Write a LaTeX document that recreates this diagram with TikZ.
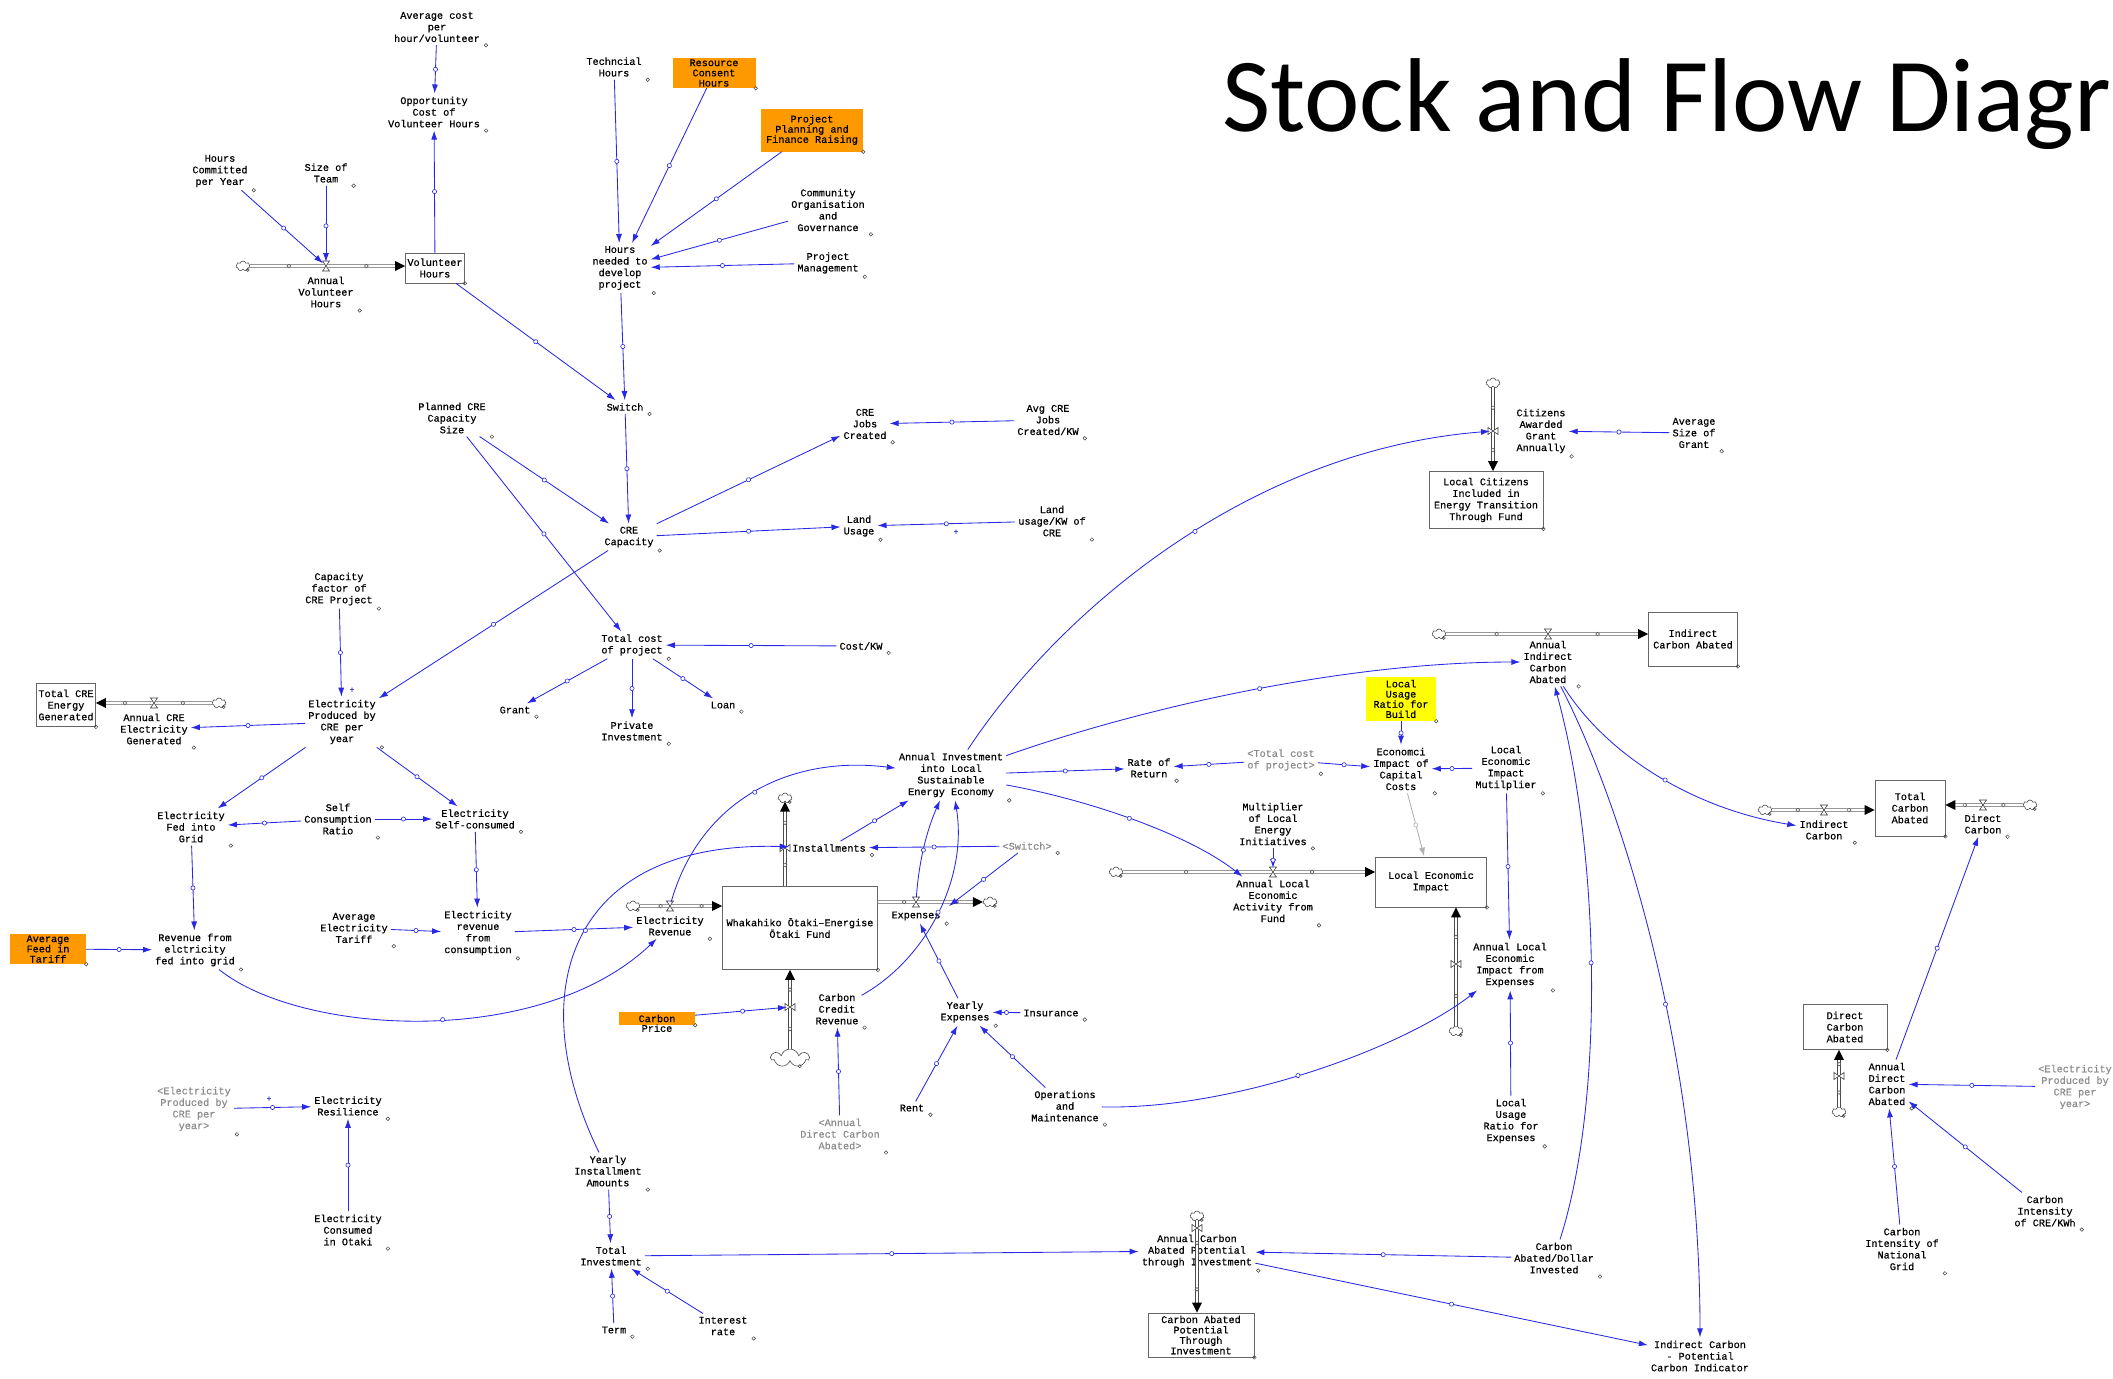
\documentclass[tikz,border=0pt]{standalone}
\usepackage{fontspec}
\usetikzlibrary{arrows.meta,positioning,calc,shapes.symbols,decorations.markings}
\newfontfamily\vfont[FakeBold=0.6]{Liberation Mono}
\newfontfamily\titlefont{Carlito}
\definecolor{vblue}{RGB}{40,40,230}
\definecolor{vorange}{RGB}{255,153,0}
\definecolor{vyellow}{RGB}{255,255,0}

\begin{document}
\begin{tikzpicture}[
  x=1pt, y=-1pt,
  var/.style={font=\vfont\fontsize{10.2}{11.6}\selectfont, align=center, inner sep=3pt},
  ghost/.style={var, text=black!45},
  hilite/.style={var, inner sep=0pt, font=\vfont\fontsize{10.2}{10.2}\selectfont},
  stockbox/.style={var, draw=black!60, line width=0.8pt},
  cloudy/.style={cloud, cloud puffs=7, aspect=1.4, draw=black!70, fill=white, line width=0.6pt,
    minimum width=14pt, minimum height=10pt, inner sep=0pt},
  plus/.style={text=vblue, font=\vfont\fontsize{8}{8}\selectfont, inner sep=0pt},
  dot/.style={draw=black!75, line width=0.5pt},
  link/.style={draw=vblue, line width=0.85pt, -{Latex[length=9pt,width=6pt]},
    postaction={decorate, decoration={markings,
      mark=at position 0.5 with {\draw[vblue, fill=white, line width=0.6pt] (0,0) circle (2.1pt);}}}},
  glink/.style={draw=black!30, line width=0.85pt, -{Latex[length=9pt,width=6pt]},
    postaction={decorate, decoration={markings,
      mark=at position 0.5 with {\draw[black!30, fill=white, line width=0.6pt] (0,0) circle (2.1pt);}}}},
  pipe/.style={draw=black!70, line width=0.6pt, double=white, double distance=2.2pt, shorten >=3.5pt,
    postaction={decorate, decoration={markings,
      mark=at position 0.25 with {\draw[black!70, fill=white, line width=0.5pt] (0,0) circle (1.9pt);},
      mark=at position 0.75 with {\draw[black!70, fill=white, line width=0.5pt] (0,0) circle (1.9pt);},
      mark=at position 1 with {\fill[black] (0pt,0pt) -- (-10pt,5pt) -- (-10pt,-5pt) -- cycle;}}}},
  pics/hvalve/.style={code={\draw[black!75, fill=white, line width=0.6pt] (-3.5,-5) -- (3.5,-5) -- (-3.5,5) -- (3.5,5) -- cycle;}},
  pics/vvalve/.style={code={\draw[black!75, fill=white, line width=0.6pt] (-5,-3.5) -- (-5,3.5) -- (5,-3.5) -- (5,3.5) -- cycle;}}
]

\useasboundingbox[fill=white] (0,0) rectangle (2113,1379);

\node[font=\titlefont\fontsize{105}{110}\selectfont, anchor=base west, inner sep=0pt] (title) at (1222,131) {Stock and Flow Diagram};

% volunteer hours
\node[var] (avgcost) at (437,27) {Average cost\\per\\hour/volunteer};
\node[var] (oppcost) at (434,112) {Opportunity\\Cost of\\Volunteer Hours};
\node[var] (hrscom) at (220,171) {Hours\\Committed\\per Year};
\node[var] (teamsize) at (326,173) {Size of\\Team};
\node[stockbox, minimum width=59pt, minimum height=30pt, inner sep=1pt] (volh) at (435,268) {Volunteer\\Hours};
\node[var] (annvolh) at (326,292) {Annual\\Volunteer\\Hours};
\node[cloudy] (cVol) at (243,266) {};
\coordinate (vVol) at (326,266);

% hours needed
\node[var] (techh) at (614,67) {Techncial\\Hours};
\node[hilite, fill=vorange, minimum width=83pt, minimum height=30pt] (rcons) at (714,73) {Resource\\Consent\\Hours};
\node[hilite, fill=vorange, minimum width=102pt, minimum height=43pt] (ppfr) at (812,130) {Project\\Planning and\\Finance Raising};
\node[var] (commorg) at (828,210) {Community\\Organisation\\and\\Governance};
\node[var] (projman) at (828,263) {Project\\Management};
\node[var] (hrsneed) at (620,268) {Hours\\needed to\\develop\\project};
\node[var] (switch) at (625,407) {Switch};

% CRE capacity
\node[var] (plancre) at (452,418) {Planned CRE\\Capacity\\Size};
\node[var] (crecap) at (629,537) {CRE\\Capacity};
\node[var] (crejobs) at (865,424) {CRE\\Jobs\\Created};
\node[var] (avgjobs) at (1048,420) {Avg CRE\\Jobs\\Created/KW};
\node[var] (landuse) at (859,526) {Land\\Usage};
\node[var] (landkw) at (1052,521) {Land\\usage/KW of\\CRE};
\node[plus] (plusland) at (956,532) {+};
\node[var] (totcost) at (632,645) {Total cost\\of project};
\node[var] (costkw) at (861,646) {Cost/KW};
\node[var] (grant) at (515,710) {Grant};
\node[var] (privinv) at (632,731) {Private\\Investment};
\node[var] (loan) at (723,705) {Loan};

% electricity
\node[var] (capfac) at (339,589) {Capacity\\factor of\\CRE Project};
\node[plus] (pluscap) at (352,690) {+};
\node[var] (elecprod) at (342,722) {Electricity\\Produced by\\CRE per\\year};
\node[stockbox, minimum width=59pt, minimum height=43pt, inner sep=1pt] (totcre) at (66,705) {Total CRE\\Energy\\Generated};
\node[var] (anncre) at (154,729) {Annual CRE\\Electricity\\Generated};
\node[cloudy] (cCre) at (219,703) {};
\coordinate (vCre) at (154,703);
\node[var] (elecfed) at (191,827) {Electricity\\Fed into\\Grid};
\node[var] (selfcons) at (338,819) {Self\\Consumption\\Ratio};
\node[var] (elecself) at (475,819) {Electricity\\Self-consumed};
\node[var] (revcons) at (478,933) {Electricity\\revenue\\from\\consumption};
\node[var] (avgtariff) at (354,928) {Average\\Electricity\\Tariff};
\node[var] (revgrid) at (195,950) {Revenue from\\elctricity\\fed into grid};
\node[hilite, fill=vorange, minimum width=76pt, minimum height=30pt] (feedin) at (48,949) {Average\\Feed in\\Tariff};

% fund
\node[stockbox, minimum width=155pt, minimum height=83pt] (fund) at (800,928) {Whakahiko Ōtaki–Energise\\Ōtaki Fund};
\node[var] (elecrev) at (670,926) {Electricity\\Revenue};
\node[cloudy] (cErev) at (633,906) {};
\coordinate (vErev) at (670,906);
\node[var] (instal) at (829,848) {Installments};
\node[cloudy] (cInst) at (785,798) {};
\coordinate (vInst) at (785,848);
\node[var] (expenses) at (916,916) {Expenses};
\node[cloudy] (cExp) at (990,902) {};
\coordinate (vExp) at (916,902);
\coordinate (swExp) at (949,906);
\node[var] (carbcr) at (837,1009) {Carbon\\Credit\\Revenue};
\node[cloudy, minimum width=38pt, minimum height=18pt] (cCcr) at (790,1058) {};
\coordinate (vCcr) at (790,1007);
\node[hilite, fill=vorange, minimum width=76pt, minimum height=13pt,
  label={[var, inner sep=0pt, yshift=1pt]below:Price}] (carbprice) at (657,1018.5) {Carbon};
\node[ghost] (annco2dir) at (840,1134) {<Annual\\Direct Carbon\\Abated>};
\node[var] (yrexp) at (965,1012) {Yearly\\Expenses};
\node[var] (insur) at (1051,1013) {Insurance};
\node[var] (rent) at (912,1108) {Rent};
\node[var] (opsm) at (1065,1106) {Operations\\and\\Maintenance};
\node[var] (anninv) at (951,775) {Annual Investment\\into Local\\Sustainable\\Energy Economy};
\node[ghost] (switchg) at (1027,846) {<Switch>};

% local economy
\node[var] (rateret) at (1149,768) {Rate of\\Return};
\node[ghost] (totcostg) at (1281,760) {<Total cost\\of project>};
\node[hilite, fill=vyellow, minimum width=70pt, minimum height=44pt] (lurbuild) at (1401,699) {Local\\Usage\\Ratio for\\Build};
\node[var] (econcap) at (1401,769) {Economci\\Impact of\\Capital\\Costs};
\node[var] (lemult) at (1506,768) {Local\\Economic\\Impact\\Mutilplier};
\node[var] (multle) at (1273,824) {Multiplier\\of Local\\Energy\\Initiatives};
\node[var] (annlea) at (1273,901) {Annual Local\\Economic\\Activity from\\Fund};
\node[cloudy] (cLea) at (1116,872) {};
\coordinate (vLea) at (1273,872);
\node[stockbox, minimum width=111pt, minimum height=50pt] (leimpact) at (1431,882) {Local Economic\\Impact};
\node[var] (anlexp) at (1510,965) {Annual Local\\Economic\\Impact from\\Expenses};
\node[cloudy] (cLex) at (1456,1031) {};
\coordinate (vLex) at (1456,964);
\node[var] (lurexp) at (1511,1121) {Local\\Usage\\Ratio for\\Expenses};

% citizens
\node[var] (citiz) at (1541,431) {Citizens\\Awarded\\Grant\\Annually};
\node[cloudy] (cCit) at (1493,383) {};
\coordinate (vCit) at (1493,431);
\node[var] (avggrant) at (1694,433) {Average\\Size of\\Grant};
\node[stockbox, minimum width=114pt, minimum height=57pt, inner sep=1pt] (locciti) at (1486,500) {Local Citizens\\Included in\\Energy Transition\\Through Fund};

% carbon
\node[var] (annind) at (1548,662) {Annual\\Indirect\\Carbon\\Abated};
\node[cloudy] (cInd) at (1439,634) {};
\coordinate (vInd) at (1548,634);
\node[stockbox, minimum width=89pt, minimum height=54pt, inner sep=1pt] (indca) at (1693,639) {Indirect\\Carbon Abated};
\node[stockbox, minimum width=70pt, minimum height=56pt, inner sep=1pt] (totca) at (1910,808) {Total\\Carbon\\Abated};
\node[var] (indc) at (1824,830) {Indirect\\Carbon};
\node[cloudy] (cIc) at (1765,810) {};
\coordinate (vIc) at (1824,810);
\node[var] (dirc) at (1983,824) {Direct\\Carbon};
\node[cloudy] (cDc) at (2030,805) {};
\coordinate (vDc) at (1983,805);
\node[stockbox, minimum width=84pt, minimum height=45pt, inner sep=1pt] (dirca) at (1845,1027) {Direct\\Carbon\\Abated};
\node[var] (anndir) at (1887,1084) {Annual\\Direct\\Carbon\\Abated};
\node[cloudy] (cAd) at (1839,1112) {};
\coordinate (vAd) at (1839,1076);
\node[ghost] (elecprodg) at (2075,1087) {<Electricity\\Produced by\\CRE per\\year>};
\node[var] (cicre) at (2045,1211) {Carbon\\Intensity\\of CRE/KWh};
\node[var] (cigrid) at (1902,1249) {Carbon\\Intensity of\\National\\Grid};

% bottom row
\node[ghost] (elecprodg2) at (194,1109) {<Electricity\\Produced by\\CRE per\\year>};
\node[plus] (plusres) at (269,1099) {+};
\node[var] (elecres) at (348,1106) {Electricity\\Resilience};
\node[var] (eleccons) at (348,1230) {Electricity\\Consumed\\in Otaki};
\node[var] (yrinst) at (608,1171) {Yearly\\Installment\\Amounts};
\node[var] (totinv) at (611,1256) {Total\\Investment};
\node[var] (term) at (614,1330) {Term};
\node[var] (intrate) at (723,1326) {Interest\\rate};
\node[var] (acap) at (1197,1251) {Annual Carbon\\Abated Potential\\through Investment};
\node[cloudy] (cAcap) at (1197,1216) {};
\coordinate (vAcap) at (1197,1228);
\node[stockbox, minimum width=106pt, minimum height=44pt, inner sep=1pt, font=\vfont\fontsize{10.2}{10.4}\selectfont] (cap) at (1201,1335) {Carbon Abated\\Potential\\Through\\Investment};
\node[var] (cadollar) at (1554,1258) {Carbon\\Abated/Dollar\\Invested};
\node[var] (indpot) at (1700,1356) {Indirect Carbon\\- Potential\\Carbon Indicator};

% flows
\draw[pipe] (cVol) -- (vVol) -- (volh.west |- vVol);
\draw[pipe] (cCre) -- (vCre) -- (totcre.east |- vCre);
\draw[pipe] (cErev) -- (vErev) -- (fund.west |- vErev);
\draw[pipe] (fund.north -| vInst) -- (vInst) -- (cInst);
\draw[pipe] (fund.east |- vExp) -- (vExp) -- (cExp);
\draw[pipe] (cCcr) -- (vCcr) -- (fund.south -| vCcr);
\draw[pipe] (cCit) -- (vCit) -- (locciti.north -| vCit);
\draw[pipe] (cLea) -- (vLea) -- (leimpact.west |- vLea);
\draw[pipe] (cLex) -- (vLex) -- (leimpact.south -| vLex);
\draw[pipe] (cInd) -- (vInd) -- (indca.west |- vInd);
\draw[pipe] (cIc) -- (vIc) -- (totca.west |- vIc);
\draw[pipe] (cDc) -- (vDc) -- (totca.east |- vDc);
\draw[pipe] (cAd) -- (vAd) -- (dirca.south -| vAd);
\draw[pipe] (cAcap) -- (vAcap) -- (cap.north -| vAcap);

\foreach \v in {vVol,vCre,vErev,vExp,vLea,vInd,vIc,vDc}
  \pic at (\v) {hvalve};
\foreach \v in {vInst,vCcr,vCit,vLex,vAd,vAcap}
  \pic at (\v) {vvalve};

% links
\draw[link] (avgcost) -- (oppcost);
\draw[link] (volh) -- (oppcost);
\draw[link, shorten >=4pt] (hrscom) -- (vVol);
\draw[link, shorten >=4pt] (teamsize) -- (vVol);
\draw[link] (volh) -- (switch);
\draw[link] (techh) -- (hrsneed);
\draw[link] (rcons) -- (hrsneed);
\draw[link] (ppfr) -- (hrsneed);
\draw[link] (commorg) -- (hrsneed);
\draw[link] (projman) -- (hrsneed);
\draw[link] (hrsneed) -- (switch);
\draw[link] (switch) -- (crecap);
\draw[link] (plancre) -- (crecap);
\draw[link] (plancre) -- (totcost);
\draw[link] (crecap) -- (crejobs);
\draw[link] (avgjobs) -- (crejobs);
\draw[link] (crecap) -- (landuse);
\draw[link] (landkw) -- (landuse);
\draw[link] (crecap) -- (elecprod);
\draw[link] (costkw) -- (totcost);
\draw[link] (totcost) -- (grant);
\draw[link] (totcost) -- (privinv);
\draw[link] (totcost) -- (loan);

\draw[link] (capfac) -- (elecprod);
\draw[link] (elecprod) -- (anncre);
\draw[link] (elecprod) -- (elecfed);
\draw[link] (elecprod) -- (elecself);
\draw[link] (selfcons) -- (elecfed);
\draw[link] (selfcons) -- (elecself);
\draw[link] (elecfed) -- (revgrid);
\draw[link] (elecself) -- (revcons);
\draw[link] (avgtariff) -- (revcons);
\draw[link] (feedin) -- (revgrid);
\draw[link] (revgrid) .. controls (300,1035) and (540,1050) .. (elecrev);
\draw[link] (revcons) -- (elecrev);

\draw[link, shorten <=4pt] (vErev) .. controls (700,800) and (790,755) .. (anninv);
\draw[link] (yrinst) .. controls (520,990) and (570,840) .. (instal);
\draw[link] (instal) -- (anninv);
\draw[link] (switchg) -- (instal);
\draw[link] (switchg) -- (swExp);
\draw[link, shorten <=5pt] (vExp) .. controls (919,860) and (927,830) .. (anninv);
\draw[link] (carbcr) .. controls (925,960) and (968,880) .. (anninv);
\draw[link, shorten >=3pt] (carbprice) -- (vCcr);
\draw[link] (annco2dir) -- (carbcr);
\draw[link] (yrexp) -- (expenses);
\draw[link] (insur) -- (yrexp);
\draw[link] (rent) -- (yrexp);
\draw[link] (opsm) -- (yrexp);
\draw[link] (opsm) .. controls (1230,1110) and (1400,1050) .. (anlexp);

\draw[link, shorten >=3pt] (anninv) .. controls (1060,610) and (1250,450) .. (vCit);
\draw[link] (anninv) .. controls (1150,705) and (1350,662) .. (annind);
\draw[link] (anninv) -- (rateret);
\draw[link] (anninv) .. controls (1090,800) and (1190,835) .. (annlea);
\draw[link] (totcostg) -- (rateret);
\draw[link] (totcostg) -- (econcap);
\draw[link] (lurbuild) -- (econcap);
\draw[link] (lemult) -- (econcap);
\draw[glink] (econcap) -- (leimpact);
\draw[link] (lemult) -- (anlexp);
\draw[link, shorten >=4pt] (multle) -- (vLea);
\draw[link] (lurexp) -- (anlexp);
\draw[link] (avggrant) -- (citiz);

\draw[link] (annind) .. controls (1610,760) and (1700,810) .. (indc);
\draw[link] (cadollar) .. controls (1605,1100) and (1600,850) .. (annind);
\draw[link] (annind) .. controls (1620,800) and (1700,1050) .. (indpot);
\draw[link] (anndir) -- (dirc);
\draw[link] (elecprodg) -- (anndir);
\draw[link] (cicre) -- (anndir);
\draw[link] (cigrid) -- (anndir);

\draw[link] (elecprodg2) -- (elecres);
\draw[link] (eleccons) -- (elecres);
\draw[link] (yrinst) -- (totinv);
\draw[link] (term) -- (totinv);
\draw[link] (intrate) -- (totinv);
\draw[link] (totinv) -- (acap);
\draw[link] (cadollar) -- (acap);
\draw[link] (acap) -- (indpot);

% variable markers
\foreach \n in {avgcost,oppcost,hrscom,teamsize,annvolh,techh,commorg,projman,hrsneed,switch,
  plancre,crecap,crejobs,avgjobs,landuse,landkw,totcost,costkw,grant,privinv,loan,capfac,elecprod,
  anncre,elecfed,selfcons,elecself,revcons,avgtariff,revgrid,elecrev,instal,expenses,carbcr,
  annco2dir,yrexp,insur,rent,opsm,anninv,switchg,rateret,totcostg,econcap,lemult,multle,annlea,
  anlexp,lurexp,citiz,avggrant,annind,indc,dirc,anndir,cicre,cigrid,elecprodg2,elecres,eleccons,
  yrinst,totinv,term,intrate,acap,cadollar}
  \draw[dot] ([xshift=3pt]\n.south east) circle (1.8pt);
\foreach \n in {volh,totcre,fund,leimpact,locciti,indca,totca,dirca,cap,rcons,ppfr,feedin,lurbuild,carbprice}
  \draw[dot] (\n.south east) circle (1.8pt);
\foreach \n in {cVol,cCre,cErev,cInst,cExp,cCcr,cLea,cLex,cInd,cIc,cDc,cAd,cAcap}
  \draw[dot] (\n.-40) circle (1.6pt);

\end{tikzpicture}
\end{document}
